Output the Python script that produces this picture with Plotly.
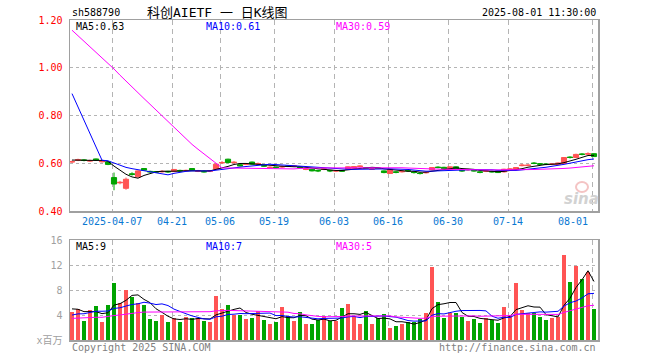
import plotly.graph_objects as go
import pandas as pd

# ---------------- data ----------------
dates = [
    "2025-03-26", "2025-03-27", "2025-03-28", "2025-03-31",
    "2025-04-01", "2025-04-02", "2025-04-03", "2025-04-07", "2025-04-08", "2025-04-09", "2025-04-10", "2025-04-11",
    "2025-04-14", "2025-04-15", "2025-04-16", "2025-04-17", "2025-04-18", "2025-04-21", "2025-04-22", "2025-04-23",
    "2025-04-24", "2025-04-25", "2025-04-28", "2025-04-29", "2025-04-30",
    "2025-05-06", "2025-05-07", "2025-05-08", "2025-05-09", "2025-05-12", "2025-05-13", "2025-05-14", "2025-05-15",
    "2025-05-16", "2025-05-19", "2025-05-20", "2025-05-21", "2025-05-22", "2025-05-23", "2025-05-26", "2025-05-27",
    "2025-05-28", "2025-05-29", "2025-05-30",
    "2025-06-03", "2025-06-04", "2025-06-05", "2025-06-06", "2025-06-09", "2025-06-10", "2025-06-11", "2025-06-12",
    "2025-06-13", "2025-06-16", "2025-06-17", "2025-06-18", "2025-06-19", "2025-06-20", "2025-06-23", "2025-06-24",
    "2025-06-25", "2025-06-26", "2025-06-27", "2025-06-30",
    "2025-07-01", "2025-07-02", "2025-07-03", "2025-07-04", "2025-07-07", "2025-07-08", "2025-07-09", "2025-07-10",
    "2025-07-11", "2025-07-14", "2025-07-15", "2025-07-16", "2025-07-17", "2025-07-18", "2025-07-21", "2025-07-22",
    "2025-07-23", "2025-07-24", "2025-07-25", "2025-07-28", "2025-07-29", "2025-07-30", "2025-07-31",
    "2025-08-01",
]

opens = [0.605, 0.612, 0.614, 0.609, 0.618, 0.606, 0.605, 0.540, 0.518, 0.495,
         0.556, 0.543, 0.578, 0.566, 0.565, 0.564, 0.566, 0.565, 0.570, 0.568,
         0.578, 0.566, 0.566, 0.566, 0.575, 0.601, 0.617, 0.602, 0.594, 0.595,
         0.605, 0.597, 0.590, 0.581, 0.584, 0.584, 0.588, 0.587, 0.584, 0.574,
         0.575, 0.570, 0.574, 0.570, 0.567, 0.570, 0.575, 0.579, 0.586, 0.581,
         0.575, 0.580, 0.568, 0.557, 0.564, 0.564, 0.570, 0.563, 0.559, 0.560,
         0.572, 0.584, 0.583, 0.575, 0.585, 0.570, 0.572, 0.570, 0.564, 0.566,
         0.566, 0.568, 0.564, 0.574, 0.575, 0.590, 0.590, 0.601, 0.598, 0.597,
         0.595, 0.595, 0.599, 0.626, 0.624, 0.639, 0.638, 0.640]
closes = [0.607, 0.615, 0.612, 0.611, 0.614, 0.608, 0.595, 0.513, 0.520, 0.533,
          0.553, 0.568, 0.571, 0.564, 0.563, 0.566, 0.564, 0.574, 0.568, 0.570,
          0.571, 0.568, 0.564, 0.568, 0.596, 0.603, 0.603, 0.604, 0.589, 0.597,
          0.596, 0.599, 0.588, 0.583, 0.582, 0.586, 0.587, 0.589, 0.582, 0.576,
          0.568, 0.568, 0.576, 0.568, 0.569, 0.567, 0.585, 0.586, 0.588, 0.579,
          0.577, 0.578, 0.561, 0.575, 0.562, 0.566, 0.568, 0.561, 0.557, 0.562,
          0.582, 0.582, 0.577, 0.585, 0.577, 0.568, 0.574, 0.568, 0.562, 0.568,
          0.564, 0.561, 0.575, 0.576, 0.582, 0.592, 0.592, 0.599, 0.596, 0.595,
          0.597, 0.601, 0.624, 0.624, 0.637, 0.637, 0.640, 0.628]
highs = [0.611, 0.619, 0.617, 0.615, 0.620, 0.612, 0.607, 0.561, 0.526, 0.540,
         0.562, 0.570, 0.580, 0.569, 0.567, 0.571, 0.568, 0.576, 0.573, 0.573,
         0.579, 0.572, 0.569, 0.571, 0.598, 0.609, 0.619, 0.609, 0.596, 0.601,
         0.607, 0.603, 0.593, 0.587, 0.586, 0.590, 0.591, 0.592, 0.587, 0.580,
         0.577, 0.572, 0.580, 0.572, 0.572, 0.572, 0.587, 0.588, 0.591, 0.584,
         0.581, 0.582, 0.570, 0.577, 0.567, 0.570, 0.572, 0.566, 0.562, 0.566,
         0.584, 0.587, 0.585, 0.587, 0.587, 0.572, 0.577, 0.572, 0.567, 0.572,
         0.569, 0.570, 0.577, 0.580, 0.584, 0.598, 0.596, 0.605, 0.601, 0.600,
         0.601, 0.603, 0.626, 0.629, 0.640, 0.642, 0.646, 0.642]
lows = [0.601, 0.609, 0.608, 0.606, 0.610, 0.603, 0.592, 0.487, 0.512, 0.489,
        0.548, 0.541, 0.569, 0.561, 0.559, 0.561, 0.560, 0.563, 0.565, 0.566,
        0.569, 0.563, 0.561, 0.563, 0.573, 0.598, 0.600, 0.599, 0.587, 0.592,
        0.594, 0.594, 0.585, 0.578, 0.578, 0.580, 0.584, 0.584, 0.579, 0.571,
        0.566, 0.563, 0.571, 0.563, 0.563, 0.565, 0.573, 0.577, 0.583, 0.576,
        0.573, 0.576, 0.558, 0.555, 0.558, 0.561, 0.565, 0.557, 0.553, 0.557,
        0.570, 0.579, 0.575, 0.573, 0.575, 0.564, 0.569, 0.565, 0.558, 0.563,
        0.561, 0.559, 0.561, 0.571, 0.573, 0.587, 0.588, 0.596, 0.593, 0.592,
        0.592, 0.593, 0.597, 0.620, 0.622, 0.633, 0.635, 0.626]
# volume, millions of shares
volumes = [4.5, 4.9, 3.1, 4.8, 5.4, 2.9, 5.6, 9.2, 6.0, 8.0,
           6.9, 6.0, 5.6, 3.4, 3.1, 4.0, 2.9, 3.5, 2.9, 3.7,
           3.5, 3.6, 3.1, 2.9, 7.0, 5.0, 5.6, 4.0, 4.0, 3.4,
           3.6, 4.7, 3.2, 2.6, 2.9, 5.3, 3.9, 3.1, 4.5, 2.6,
           2.6, 3.2, 3.8, 3.1, 3.1, 5.2, 5.8, 3.8, 2.6, 4.6,
           2.6, 3.6, 4.1, 2.0, 2.3, 2.6, 2.9, 2.9, 3.3, 4.3,
           11.7, 6.1, 3.6, 4.3, 4.3, 3.7, 3.1, 3.4, 2.8, 3.6,
           3.2, 2.8, 5.3, 3.8, 9.2, 4.8, 4.3, 4.3, 3.7, 3.2,
           3.6, 3.7, 13.6, 9.3, 11.8, 9.8, 10.9, 5.0]

# sessions before the visible window (needed for the moving averages)
hist_close = [1.31, 1.30, 1.29, 1.30, 1.28, 1.27, 1.29, 1.30, 1.29, 1.28,
              1.30, 1.29, 1.28, 1.29, 1.30, 1.28, 1.29, 1.28, 1.29, 1.29,
              1.18, 1.17, 1.16, 1.17, 1.17, 0.62, 0.615, 0.61, 0.615]
hist_volume = [3.1, 3.3, 3.0, 3.4, 3.2, 3.1, 3.3, 3.2, 3.0, 3.3,
               3.2, 3.1, 3.4, 3.2, 3.1, 3.2, 3.3, 3.1, 3.2, 3.2,
               3.0, 2.9, 3.1, 3.0, 3.0, 5.2, 5.0, 5.1, 5.1]

tick_dates = ["2025-04-07", "2025-04-21", "2025-05-06", "2025-05-19", "2025-06-03",
              "2025-06-16", "2025-06-30", "2025-07-14", "2025-08-01"]
tick_labels = ["2025-04-07", "04-21", "05-06", "05-19", "06-03", "06-16", "06-30", "07-14", "08-01"]

price_ticks = [0.40, 0.60, 0.80, 1.00, 1.20]
vol_ticks = [0, 4, 8, 12, 16]
vol_tick_labels = ["x百万", "4", "8", "12", "16"]

ma_windows = [5, 10, 30]
ma_colors = ["#000000", "#0000ff", "#ff00ff"]
price_ma_text = ["MA5:0.63", "MA10:0.61", "MA30:0.59"]
vol_ma_text = ["MA5:9", "MA10:7", "MA30:5"]

# ---------------- derived ----------------
n = len(dates)
idx = list(range(n))
n_hist = len(hist_close)
all_close = pd.Series(hist_close + closes)
all_vol = pd.Series(hist_volume + volumes)

RED = "#ff5454"
GREEN = "#00a400"
MONO = "DejaVu Sans Mono, Noto Sans CJK SC"

W, H = 660, 360
L, R, T, B = 70, 62, 20, 20
PW, PH = W - L - R, H - T - B


def px(xp):
    return (xp - L) / PW


def py(yp):
    return (H - B - yp) / PH


fig = go.Figure()

fig.add_trace(go.Candlestick(
    x=idx, open=opens, high=highs, low=lows, close=closes,
    increasing=dict(line=dict(color=RED, width=1), fillcolor=RED),
    decreasing=dict(line=dict(color=GREEN, width=1), fillcolor=GREEN),
    xaxis="x", yaxis="y", showlegend=False, hoverinfo="skip",
))

for w, col in zip(ma_windows, ma_colors):
    ma = all_close.rolling(w).mean().tolist()[n_hist:]
    fig.add_trace(go.Scatter(x=idx, y=ma, mode="lines", line=dict(color=col, width=1),
                             xaxis="x", yaxis="y", showlegend=False, hoverinfo="skip"))

bar_colors = [RED if c >= o else GREEN for o, c in zip(opens, closes)]
fig.add_trace(go.Bar(x=idx, y=volumes, marker=dict(color=bar_colors, line=dict(width=0)),
                     width=0.82, xaxis="x2", yaxis="y2", showlegend=False, hoverinfo="skip"))

for w, col in zip(ma_windows, ma_colors):
    ma = all_vol.rolling(w).mean().tolist()[n_hist:]
    fig.add_trace(go.Scatter(x=idx, y=ma, mode="lines", line=dict(color=col, width=1),
                             xaxis="x2", yaxis="y2", showlegend=False, hoverinfo="skip"))

grid_pos = [dates.index(d) - 0.3 for d in tick_dates]
xr = [-1 / 3, n - 1 / 3]

xcommon = dict(range=xr, tickvals=grid_pos, showticklabels=False, ticks="",
               showgrid=True, gridcolor="#b4b4b4", griddash="5px,4px", gridwidth=1,
               zeroline=False, showline=True, mirror=True, linecolor="#a0a0a0", linewidth=1.5,
               fixedrange=True)

fig.update_layout(
    width=W, height=H,
    margin=dict(l=L, r=R, t=T, b=B, pad=0),
    paper_bgcolor="white", plot_bgcolor="white",
    boxgap=0.1, boxgroupgap=0.05,
    bargap=0,
    xaxis=dict(domain=[0, 1], anchor="y", rangeslider=dict(visible=False), **xcommon),
    xaxis2=dict(domain=[0, 1], anchor="y2", **xcommon),
    yaxis=dict(domain=[py(211), 1], range=[0.40, 1.20], tickvals=price_ticks,
               ticktext=[f"{v:.2f}" for v in price_ticks],
               tickfont=dict(family=MONO, size=10, color="#ff0000"), ticks="",
               ticklabelstandoff=4,
               showgrid=True, gridcolor="#b4b4b4", griddash="dot", gridwidth=1,
               zeroline=False, showline=True, mirror=True, linecolor="#a0a0a0", linewidth=1.5,
               fixedrange=True),
    yaxis2=dict(domain=[0, py(240)], range=[0, 16], tickvals=vol_ticks, ticktext=vol_tick_labels,
                tickfont=dict(family=MONO, size=10, color="#a0a0a0"), ticks="",
                ticklabelstandoff=4,
                showgrid=True, gridcolor="#b4b4b4", griddash="dot", gridwidth=1,
                zeroline=False, showline=True, mirror=True, linecolor="#a0a0a0", linewidth=1.5,
                fixedrange=True),
)

ann = []
# header
ann.append(dict(x=px(70), y=py(13), xref="paper", yref="paper", text="sh588790", showarrow=False,
                xanchor="left", yanchor="middle", font=dict(family=MONO, size=10, color="#000")))
ann.append(dict(x=px(217), y=py(13), xref="paper", yref="paper", text="科创AIETF 一 日K线图", showarrow=False,
                xanchor="center", yanchor="middle", font=dict(family=MONO, size=13, color="#000")))
ann.append(dict(x=px(598), y=py(13), xref="paper", yref="paper", text="2025-08-01 11:30:00", showarrow=False,
                xanchor="right", yanchor="middle", font=dict(family=MONO, size=10, color="#000")))
# MA legends
for t, col, xp in zip(price_ma_text, ma_colors, [74, 204, 334]):
    ann.append(dict(x=px(xp), y=py(26), xref="paper", yref="paper", text=t, showarrow=False,
                    xanchor="left", yanchor="middle", font=dict(family=MONO, size=10, color=col)))
for t, col, xp in zip(vol_ma_text, ma_colors, [74, 204, 334]):
    ann.append(dict(x=px(xp), y=py(246), xref="paper", yref="paper", text=t, showarrow=False,
                    xanchor="left", yanchor="middle", font=dict(family=MONO, size=10, color=col)))
# date labels
for k, (gp, lab) in enumerate(zip(grid_pos, tick_labels)):
    last = k == len(grid_pos) - 1
    ann.append(dict(x=gp, y=py(221), xref="x", yref="paper", text=lab, showarrow=False,
                    xanchor="right" if last else "center", xshift=-2 if last else 0, yanchor="middle",
                    font=dict(family=MONO, size=10, color="#0a78d2")))
# footer
ann.append(dict(x=px(70), y=py(347), xref="paper", yref="paper", text="Copyright 2025 SINA.COM", showarrow=False,
                xanchor="left", yanchor="middle", font=dict(family=MONO, size=10, color="#808080")))
ann.append(dict(x=px(598), y=py(347), xref="paper", yref="paper", text="http://finance.sina.com.cn", showarrow=False,
                xanchor="right", yanchor="middle", font=dict(family=MONO, size=10, color="#808080")))
# watermark
ann.append(dict(x=px(581), y=py(199), xref="paper", yref="paper", text="<b><i>sina</i></b>", showarrow=False,
                xanchor="center", yanchor="middle", font=dict(family="DejaVu Sans", size=15, color="#d2d2d2")))
fig.add_shape(type="circle", xref="paper", yref="paper",
              x0=px(576), x1=px(588), y0=py(192), y1=py(182),
              line=dict(color="#f4c4c4", width=2), fillcolor="rgba(0,0,0,0)", layer="below")

fig.update_layout(annotations=ann)

fig.write_html("out.html", config={"displayModeBar": False, "staticPlot": True},
               post_script="document.body.style.margin='0';")
